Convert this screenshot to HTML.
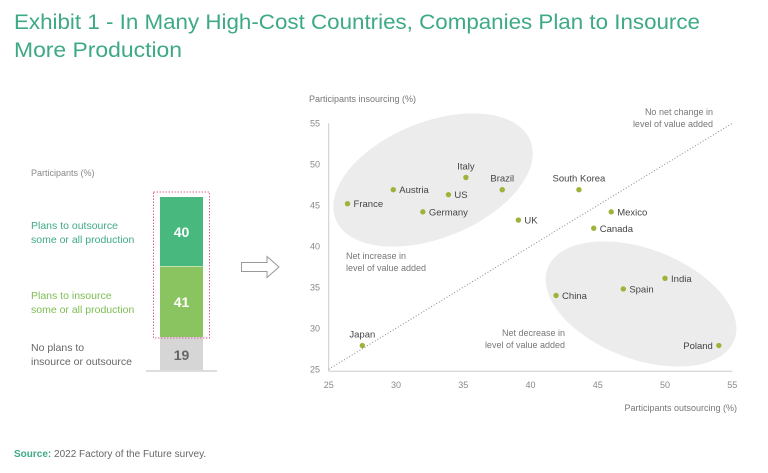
<!DOCTYPE html>
<html><head><meta charset="utf-8"><style>
body{margin:0;background:#fff;}
svg{display:block;font-family:"Liberation Sans",sans-serif;}
</style></head><body>
<svg id="c" width="768" height="473" viewBox="0 0 768 473">
<text x="14" y="29" font-size="21" fill="#3eaa84" textLength="686" lengthAdjust="spacingAndGlyphs">Exhibit 1 - In Many High-Cost Countries, Companies Plan to Insource</text>
<text x="14" y="57" font-size="21" fill="#3eaa84" textLength="168" lengthAdjust="spacingAndGlyphs">More Production</text>
<text x="31" y="176" font-size="9" fill="#888">Participants (%)</text>
<rect x="160" y="197" width="43" height="69" fill="#49b87f"/>
<rect x="160" y="266.5" width="43" height="70.5" fill="#8ac460"/>
<rect x="160" y="337" width="43" height="33" fill="#d6d6d6"/>
<rect x="153.5" y="192" width="56" height="146" fill="none" stroke="#d8649a" stroke-width="1" stroke-dasharray="1.5,1.5"/>
<line x1="146" y1="371" x2="217" y2="371" stroke="#bbb"/>
<text x="181.5" y="237" font-size="14" font-weight="bold" fill="#fff" text-anchor="middle">40</text>
<text x="181.5" y="307" font-size="14" font-weight="bold" fill="#fff" text-anchor="middle">41</text>
<text x="181.5" y="360" font-size="14" font-weight="bold" fill="#666" text-anchor="middle">19</text>
<g font-size="10.5">
<text x="31" y="229" fill="#3eaa84">Plans to outsource</text>
<text x="31" y="243" fill="#3eaa84">some or all production</text>
<text x="31" y="299" fill="#7cbd52">Plans to insource</text>
<text x="31" y="313" fill="#7cbd52">some or all production</text>
<text x="31" y="351" fill="#666">No plans to</text>
<text x="31" y="365" fill="#666">insource or outsource</text>
</g>
<path d="M241.5,262.5 H267 V256.5 L279,267 L267,277.5 V271.5 H241.5 Z" fill="#fff" stroke="#999"/>
<ellipse cx="433" cy="180" rx="105" ry="58" transform="rotate(-22 433 180)" fill="#ececec"/>
<ellipse cx="641" cy="304" rx="100" ry="55" transform="rotate(21 641 304)" fill="#ececec"/>
<g id="axes"></g>
<g id="pts"></g>
<text x="309" y="102" font-size="9" fill="#777">Participants insourcing (%)</text>
<text x="737" y="411" font-size="9" fill="#777" text-anchor="end">Participants outsourcing (%)</text>
<text x="713" y="115" font-size="9" fill="#777" text-anchor="end">No net change in</text>
<text x="713" y="127" font-size="9" fill="#777" text-anchor="end">level of value added</text>
<text x="346" y="259" font-size="9" fill="#777">Net increase in</text>
<text x="346" y="271" font-size="9" fill="#777">level of value added</text>
<text x="565" y="336" font-size="9" fill="#777" text-anchor="end">Net decrease in</text>
<text x="565" y="348" font-size="9" fill="#777" text-anchor="end">level of value added</text>
<text x="14" y="457" font-size="10" fill="#666"><tspan font-weight="bold" fill="#3eaa84">Source:</tspan> 2022 Factory of the Future survey.</text>
</svg>
<script>
const countries=["France","Austria","US","Germany","Italy","Brazil","UK","South Korea","Mexico","Canada","India","Spain","China","Poland","Japan"];
const outsourcing=[26.4,29.8,33.9,32.0,35.2,37.9,39.1,43.6,46.0,44.7,50.0,46.9,41.9,54.0,27.5];
const insourcing=[45.2,46.9,46.3,44.2,48.4,46.9,43.2,46.9,44.2,42.2,36.1,34.8,34.0,27.9,27.9];
const xTicks=[25,30,35,40,45,50,55];
const yTicks=[25,30,35,40,45,50,55];
const NS="http://www.w3.org/2000/svg";
const X=v=>328.7+(v-25)*(403.6/30);
const Y=v=>369.3-(v-25)*(246/30);
const ax=document.getElementById('axes'),pg=document.getElementById('pts');
function mk(t,a,p){const e=document.createElementNS(NS,t);for(const k in a)e.setAttribute(k,a[k]);p.appendChild(e);return e;}
let l=mk('line',{x1:X(25),y1:Y(55),x2:X(25),y2:Y(25)+2,stroke:'#ccc'},ax);


l=mk('line',{x1:X(25),y1:Y(25)+2,x2:X(55),y2:Y(25)+2,stroke:'#ccc'},ax);


l=mk('line',{x1:X(25),y1:Y(25),x2:X(55),y2:Y(55),stroke:'#888','stroke-dasharray':'1,2'},ax);


xTicks.forEach(v=>{const t=mk('text',{x:X(v),y:388,'font-size':9,fill:'#888','text-anchor':'middle'},ax);t.textContent=v;

});
yTicks.forEach(v=>{const t=mk('text',{x:320,y:Y(v)+3,'font-size':9,fill:'#888','text-anchor':'end'},ax);t.textContent=v;

});
const above=["Italy","Brazil","South Korea","Japan"],left=["Poland"];
countries.forEach((c,i)=>{const x=X(outsourcing[i]),y=Y(insourcing[i]);
const d=mk('circle',{cx:x,cy:y,r:2.7,fill:'#9cb43a'},pg);


let a={'font-size':9.5,fill:'#444'};
if(above.includes(c)){a.x=x;a.y=y-8;a['text-anchor']='middle';}
else if(left.includes(c)){a.x=x-6;a.y=y+3.5;a['text-anchor']='end';}
else{a.x=x+6;a.y=y+3.5;}
const t=mk('text',a,pg);t.textContent=c;

});
</script>
</body></html>
